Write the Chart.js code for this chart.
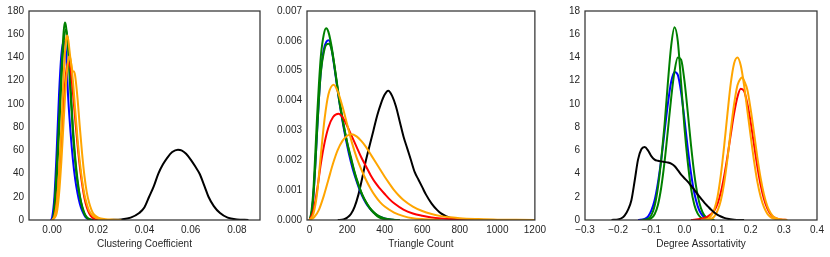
<!DOCTYPE html>
<html>
<head>
<meta charset="utf-8">
<script src="https://cdn.jsdelivr.net/npm/chart.js@4/dist/chart.umd.min.js"></script>
<style>
html,body{margin:0;padding:0;background:#fff;}
#wrap{position:relative;width:830px;height:257px;overflow:hidden;}
.p{position:absolute;top:0;height:257px;}
</style>
</head>
<body>
<div id="wrap">
  <div class="p" style="left:0;width:270px"><canvas id="c1" width="270" height="257"></canvas></div>
  <div class="p" style="left:270px;width:280px"><canvas id="c2" width="280" height="257"></canvas></div>
  <div class="p" style="left:550px;width:280px"><canvas id="c3" width="280" height="257"></canvas></div>
</div>
<script>
// ---------- Panel 1: Clustering Coefficient ----------
const ccTicksX = [0.00, 0.02, 0.04, 0.06, 0.08];
const ccTicksY = [0, 20, 40, 60, 80, 100, 120, 140, 160, 180];
const ccBlack = [[0.025,0],[0.030,0.5],[0.034,2],[0.0377,6],[0.040,11],[0.042,20],[0.044,29],[0.046,40],[0.048,48],[0.050,54],[0.052,58.5],[0.0545,60.5],[0.056,60],[0.058,57],[0.060,52],[0.062,46],[0.0638,40],[0.066,29],[0.0677,20],[0.070,12],[0.0727,6],[0.076,2],[0.080,0.5],[0.085,0]];
const ccGreenA = [[0.000,0],[0.0005,2],[0.001,12],[0.002,45],[0.003,85],[0.004,128],[0.005,162],[0.0055,170],[0.006,167],[0.007,145],[0.008,108],[0.009,75],[0.010,50],[0.011,32],[0.012,20],[0.013,11],[0.014,5],[0.015,2],[0.016,0.5],[0.018,0]];
const ccGreenB = [[0.000,0],[0.0005,1],[0.001,8],[0.002,35],[0.003,75],[0.004,118],[0.005,153],[0.006,164],[0.007,150],[0.008,115],[0.009,80],[0.010,54],[0.011,35],[0.012,21],[0.013,12],[0.014,6],[0.015,2.5],[0.016,1],[0.018,0]];
const ccBlue = [[-0.0005,0],[0.000,2],[0.001,20],[0.002,60],[0.003,108],[0.004,142],[0.005,154],[0.006,145],[0.007,104],[0.008,75],[0.009,52],[0.010,35],[0.011,23],[0.012,14],[0.013,8],[0.014,4],[0.015,1.5],[0.017,0]];
const ccRed = [[0.000,0],[0.001,3],[0.002,15],[0.003,38],[0.004,68],[0.005,100],[0.006,126],[0.007,136],[0.008,130],[0.009,110],[0.010,87],[0.011,65],[0.012,46],[0.013,31],[0.014,19],[0.015,11],[0.016,6],[0.017,3],[0.019,0.5],[0.022,0]];
const ccOrangeA = [[0.000,0],[0.001,3],[0.002,14],[0.003,40],[0.004,80],[0.005,125],[0.006,155],[0.0065,159],[0.007,155],[0.008,138],[0.009,128],[0.0095,128],[0.010,124],[0.011,105],[0.012,80],[0.013,57],[0.014,38],[0.015,24],[0.016,15],[0.017,9],[0.018,5],[0.020,2],[0.023,0.7],[0.027,0.3],[0.030,0]];
const ccOrangeB = [[0.000,0],[0.002,6],[0.003,22],[0.004,50],[0.005,85],[0.006,118],[0.007,138],[0.0075,141],[0.008,138],[0.009,120],[0.010,95],[0.011,70],[0.012,50],[0.013,34],[0.014,22],[0.015,14],[0.016,8],[0.018,3],[0.021,0.5],[0.025,0]];

// ---------- Panel 2: Triangle Count ----------
const tcTicksX = [0, 200, 400, 600, 800, 1000, 1200];
const tcTicksY = [0, 0.001, 0.002, 0.003, 0.004, 0.005, 0.006, 0.007];
const tcGreenA = [[0,0],[10,0.0003],[20,0.0010],[30,0.0022],[40,0.0035],[50,0.0046],[60,0.0055],[75,0.0062],[88,0.00642],[100,0.0063],[120,0.0057],[140,0.0048],[160,0.0039],[180,0.0032],[200,0.0026],[220,0.0021],[240,0.0016],[260,0.0012],[280,0.00085],[300,0.0006],[320,0.0004],[340,0.00025],[360,0.00013],[380,0.00006],[420,0.00002],[460,0]];
const tcGreenB = [[0,0],[10,0.0002],[20,0.0008],[30,0.0018],[40,0.0030],[50,0.0041],[60,0.00495],[75,0.0056],[90,0.00588],[102,0.0059],[115,0.00575],[130,0.00525],[150,0.0044],[170,0.0036],[190,0.0029],[210,0.0023],[230,0.0018],[250,0.00135],[270,0.0010],[290,0.00072],[310,0.0005],[330,0.00034],[350,0.00022],[370,0.00013],[400,0.00005],[440,0.00001],[480,0]];
const tcBlue = [[0,0],[10,0.0002],[20,0.0008],[30,0.0018],[40,0.0030],[50,0.0041],[60,0.0050],[75,0.0057],[90,0.00598],[102,0.00602],[115,0.0058],[130,0.0052],[150,0.0043],[170,0.0035],[190,0.0028],[210,0.0022],[230,0.0017],[250,0.0013],[270,0.00095],[290,0.00068],[310,0.00047],[330,0.00032],[350,0.0002],[370,0.00012],[400,0.00005],[440,0.00001],[480,0]];
const tcOrangeA = [[0,0],[20,0.0002],[40,0.0009],[60,0.0022],[80,0.0034],[100,0.0042],[128,0.00453],[150,0.0043],[175,0.0038],[200,0.0032],[225,0.0026],[250,0.0021],[275,0.0017],[300,0.00135],[325,0.00105],[350,0.0008],[375,0.0006],[400,0.00045],[450,0.00025],[500,0.00013],[550,0.00006],[600,0.00003],[700,0]];
const tcRed = [[0,0],[20,0.0003],[40,0.0010],[60,0.0019],[80,0.0026],[100,0.0031],[125,0.00345],[154,0.00356],[175,0.00345],[200,0.00315],[225,0.0028],[250,0.00245],[275,0.0021],[300,0.0018],[325,0.0015],[350,0.00125],[375,0.00105],[400,0.00087],[425,0.0007],[450,0.00056],[500,0.00035],[550,0.00022],[600,0.00014],[650,0.00008],[700,0.00005],[800,0.00002],[900,0]];
const tcOrangeB = [[0,0],[25,0.0001],[50,0.00035],[75,0.0008],[100,0.00135],[125,0.0019],[150,0.00235],[175,0.00265],[200,0.00282],[223,0.00287],[250,0.0028],[275,0.00265],[300,0.00245],[325,0.0022],[350,0.00195],[375,0.0017],[400,0.00145],[425,0.00122],[450,0.0010],[475,0.00082],[500,0.00067],[550,0.00045],[600,0.0003],[650,0.0002],[700,0.00013],[750,0.00009],[800,0.00006],[900,0.00003],[1000,0.00001],[1100,0.000005],[1200,0]];
const tcBlack = [[150,0],[180,0.00002],[200,0.00008],[220,0.0002],[240,0.00045],[260,0.00085],[280,0.0014],[300,0.0020],[320,0.0025],[340,0.0030],[360,0.0035],[380,0.0039],[400,0.0042],[419,0.00433],[440,0.00415],[460,0.0038],[480,0.0033],[500,0.0028],[520,0.0024],[540,0.0020],[560,0.0016],[580,0.00135],[600,0.0011],[620,0.00085],[650,0.00055],[680,0.00033],[700,0.00022],[730,0.00012],[760,0.00005],[800,0.00001],[850,0]];

// ---------- Panel 3: Degree Assortativity ----------
const daTicksX = [-0.3, -0.2, -0.1, 0.0, 0.1, 0.2, 0.3, 0.4];
const daTicksY = [0, 2, 4, 6, 8, 10, 12, 14, 16, 18];
const daBlack = [[-0.22,0],[-0.20,0.05],[-0.19,0.15],[-0.18,0.4],[-0.17,0.9],[-0.16,1.7],[-0.15,3.4],[-0.14,5.2],[-0.13,6.1],[-0.12,6.28],[-0.11,6.0],[-0.10,5.5],[-0.09,5.2],[-0.08,5.1],[-0.07,5.05],[-0.06,5.0],[-0.05,4.95],[-0.04,4.85],[-0.03,4.65],[-0.02,4.3],[-0.01,3.9],[0.00,3.6],[0.01,3.3],[0.02,2.95],[0.03,2.6],[0.04,2.2],[0.05,1.85],[0.06,1.5],[0.07,1.2],[0.08,0.9],[0.09,0.65],[0.10,0.45],[0.11,0.3],[0.12,0.18],[0.13,0.1],[0.15,0.03],[0.18,0]];
const daGreenA = [[-0.13,0],[-0.11,0.1],[-0.10,0.4],[-0.09,1.2],[-0.08,2.8],[-0.07,5.2],[-0.06,8.2],[-0.05,11.8],[-0.04,15.0],[-0.03,16.6],[-0.02,15.4],[-0.01,11.8],[0.00,8.0],[0.01,5.0],[0.02,2.7],[0.03,1.3],[0.04,0.55],[0.05,0.2],[0.06,0.07],[0.08,0]];
const daGreenB = [[-0.12,0],[-0.10,0.15],[-0.09,0.5],[-0.08,1.3],[-0.07,2.8],[-0.06,5.0],[-0.05,7.7],[-0.04,10.5],[-0.03,12.8],[-0.02,14.0],[-0.01,13.8],[0.00,12.0],[0.01,9.3],[0.02,6.4],[0.03,3.9],[0.04,2.1],[0.05,1.0],[0.06,0.4],[0.07,0.15],[0.09,0]];
const daBlue = [[-0.14,0],[-0.12,0.1],[-0.11,0.3],[-0.10,0.8],[-0.09,1.7],[-0.08,3.2],[-0.07,5.2],[-0.06,7.6],[-0.05,10.0],[-0.04,11.9],[-0.03,12.75],[-0.02,12.5],[-0.01,11.0],[0.00,8.7],[0.01,6.2],[0.02,4.0],[0.03,2.3],[0.04,1.2],[0.05,0.55],[0.06,0.22],[0.07,0.08],[0.09,0]];
const daOrangeA = [[0.05,0],[0.07,0.1],[0.08,0.35],[0.09,0.9],[0.10,2.0],[0.11,3.9],[0.12,6.4],[0.13,9.2],[0.14,11.8],[0.15,13.5],[0.16,14.0],[0.17,13.3],[0.18,11.6],[0.19,9.4],[0.20,7.2],[0.21,5.1],[0.22,3.3],[0.23,2.0],[0.24,1.1],[0.25,0.55],[0.26,0.25],[0.28,0.05],[0.30,0]];
const daOrangeB = [[0.06,0],[0.08,0.1],[0.09,0.3],[0.10,0.8],[0.11,1.7],[0.12,3.2],[0.13,5.3],[0.14,7.8],[0.15,10.0],[0.16,11.6],[0.17,12.2],[0.175,12.3],[0.18,12.0],[0.19,11.2],[0.20,9.5],[0.21,7.5],[0.22,5.4],[0.23,3.6],[0.24,2.2],[0.25,1.2],[0.26,0.6],[0.27,0.25],[0.29,0.05],[0.31,0]];
const daRed = [[0.02,0],[0.05,0.1],[0.07,0.3],[0.09,0.8],[0.10,1.4],[0.11,2.4],[0.12,3.8],[0.13,5.5],[0.14,7.4],[0.15,9.2],[0.16,10.6],[0.17,11.3],[0.18,11.1],[0.19,10.0],[0.20,8.4],[0.21,6.5],[0.22,4.6],[0.23,3.0],[0.24,1.8],[0.25,1.0],[0.26,0.5],[0.27,0.22],[0.29,0.05],[0.31,0]];

const COL = {green:'#008000', blue:'#0000ff', red:'#ff0000', orange:'#ffa500', black:'#000000'};
const TXT = '#262626';
const FONT = {family:'"Liberation Sans", Arial, sans-serif', size:10};

const framePlugin = {
  id:'frame',
  afterDatasetsDraw(chart){
    const a = chart.chartArea, ctx = chart.ctx;
    ctx.save();
    ctx.strokeStyle = '#333333';
    ctx.lineWidth = 1.25;
    ctx.strokeRect(a.left, a.top, a.right - a.left, a.bottom - a.top);
    ctx.restore();
  }
};

function ds(pts, color){
  return {data: pts.map(p => ({x:p[0], y:p[1]})), borderColor: color, borderWidth: 2,
          pointRadius: 0, fill: false, cubicInterpolationMode: 'monotone', clip: 0};
}

function make(id, cfg){
  new Chart(document.getElementById(id), {
    type:'line',
    data:{datasets: cfg.datasets},
    plugins:[framePlugin],
    options:{
      responsive:false, animation:false, devicePixelRatio:1,
      parsing:true,
      layout:{padding:{top:10, right:cfg.padRight, left:0, bottom:0}},
      plugins:{legend:{display:false}, tooltip:{enabled:false}},
      scales:{
        x:{type:'linear', min:cfg.xmin, max:cfg.xmax,
           afterBuildTicks(s){ s.ticks = cfg.xt.map(v=>({value:v})); },
           afterFit(s){ s.height = 37; },
           grid:{display:false, drawTicks:false}, border:{display:false},
           ticks:{color:TXT, font:FONT, padding:4, maxRotation:0, autoSkip:false, callback: cfg.xfmt},
           title:{display:true, text:cfg.xtitle, color:TXT, font:FONT, padding:{top:0,bottom:7}}},
        y:{type:'linear', min:cfg.ymin, max:cfg.ymax,
           afterBuildTicks(s){ s.ticks = cfg.yt.map(v=>({value:v})); },
           afterFit(s){ s.width = cfg.yw; },
           grid:{display:false, drawTicks:false}, border:{display:false},
           ticks:{color:TXT, font:FONT, padding:5, autoSkip:false, callback: cfg.yfmt}}
      }
    }
  });
}
const minus = s => s.replace('-', '\u2212');

make('c1', {
  datasets:[ds(ccOrangeB,COL.orange), ds(ccOrangeA,COL.orange), ds(ccRed,COL.red), ds(ccGreenB,COL.green), ds(ccGreenA,COL.green), ds(ccBlue,COL.blue), ds(ccBlack,COL.black)],
  xmin:-0.01, xmax:0.09, ymin:0, ymax:180, xt:ccTicksX, yt:ccTicksY,
  xfmt:v=>Number(v).toFixed(2), yfmt:v=>String(v), xtitle:'Clustering Coefficient', yw:29, padRight:10
});
make('c2', {
  datasets:[ds(tcOrangeB,COL.orange), ds(tcOrangeA,COL.orange), ds(tcRed,COL.red), ds(tcGreenB,COL.green), ds(tcGreenA,COL.green), ds(tcBlue,COL.blue), ds(tcBlack,COL.black)],
  xmin:-14, xmax:1200, ymin:0, ymax:0.007, xt:tcTicksX, yt:tcTicksY,
  xfmt:v=>String(v), yfmt:v=>Number(v).toFixed(3), xtitle:'Triangle Count', yw:37, padRight:11
});
make('c3', {
  datasets:[ds(daBlack,COL.black), ds(daOrangeB,COL.orange), ds(daOrangeA,COL.orange), ds(daRed,COL.red), ds(daGreenB,COL.green), ds(daGreenA,COL.green), ds(daBlue,COL.blue)],
  xmin:-0.3, xmax:0.4, ymin:0, ymax:18, xt:daTicksX, yt:daTicksY,
  xfmt:v=>minus(Number(v).toFixed(1)), yfmt:v=>String(v), xtitle:'Degree Assortativity', yw:35, padRight:13
});
</script>
</body>
</html>
